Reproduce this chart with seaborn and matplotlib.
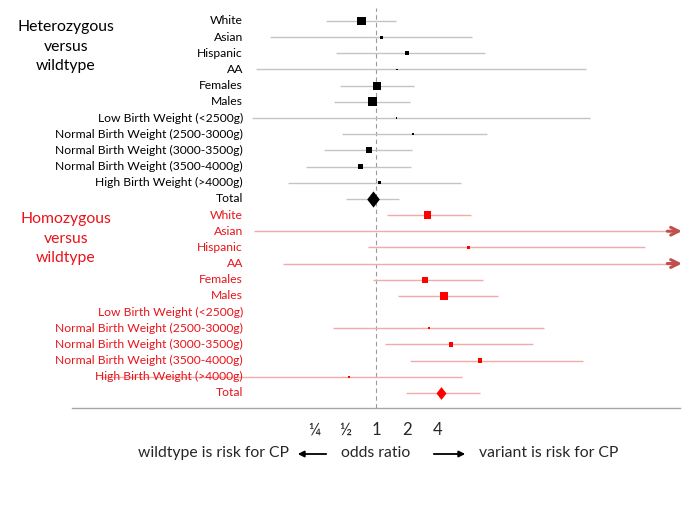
import numpy as np
import pandas as pd
import matplotlib
matplotlib.use("Agg")
import matplotlib.pyplot as plt
import matplotlib.transforms as mtransforms
from matplotlib.ticker import FixedLocator, FixedFormatter
import seaborn as sns

# Data (odds ratios)
subgroups = ["White", "Asian", "Hispanic", "AA", "Females", "Males",
             "Low Birth Weight (<2500g)", "Normal Birth Weight (2500-3000g)",
             "Normal Birth Weight (3000-3500g)", "Normal Birth Weight (3500-4000g)",
             "High Birth Weight (>4000g)", "Total"]

het_or = [0.72, 1.14, 2.01, 1.59, 1.03, 0.93, 1.59, 2.30, 0.85, 0.71, 1.09, 0.93]
het_lo = [0.33, 0.093, 0.41, 0.069, 0.45, 0.39, 0.062, 0.47, 0.31, 0.21, 0.14, 0.51]
het_hi = [1.56, 8.5, 11.5, 109, 2.36, 2.16, 118, 12.0, 2.25, 2.19, 6.7, 1.69]
het_wt = [72, 8, 14, 3, 56, 72, 1, 5, 36, 25, 7, np.nan]

hom_or = [3.16, np.nan, 7.9, np.nan, 2.99, 4.6, np.nan, 3.27, 5.35, 10.2, 0.55, 4.26]
hom_lo = [1.27, 0.065, 0.84, 0.126, 0.94, 1.65, np.nan, 0.38, 1.23, 2.14, 0.0021, 1.96]
hom_hi = [8.3, np.inf, 405, np.inf, 10.9, 15.3, np.nan, 42.5, 33.1, 102, 6.8, 10.2]
hom_wt = [49, np.nan, 7, np.nan, 36, 56, np.nan, 3, 20, 20, 3, np.nan]

groups = ["Heterozygous\nversus\nwildtype", "Homozygous\nversus\nwildtype"]

sns.set_style("white")
plt.rcParams['font.family'] = ['Lato', 'DejaVu Sans']

frames = []
for k, (g, o, lo, hi, wt) in enumerate([(groups[0], het_or, het_lo, het_hi, het_wt),
                                         (groups[1], hom_or, hom_lo, hom_hi, hom_wt)]):
    frames.append(pd.DataFrame({"group": g, "label": subgroups, "row": np.arange(12) + 12 * k,
                                "or": o, "lo": lo, "hi": hi, "weight": wt,
                                "total": [s == "Total" for s in subgroups]}))
df = pd.concat(frames, ignore_index=True)

marker_col = {groups[0]: "black", groups[1]: "#ff0000"}
text_col = {groups[0]: "black", groups[1]: "#e8141a"}
line_col = {groups[0]: "#c4c4c4", groups[1]: "#f5aaaa"}
diamond_s = {groups[0]: 135, groups[1]: 85}

fig = plt.figure(figsize=(6.85, 5.13), dpi=100)
ax = fig.add_axes([72 / 685, 1 - 408 / 513, (680 - 72) / 685, 400 / 513])
ax.set_xscale("log", base=2)
xmin, xmax = 2 ** -9.8, 2 ** 9.8
ax.set_xlim(xmin, xmax)
ax.set_ylim(23.93, -0.8)

ax.axvline(1, color="#999999", ls=(0, (4, 3)), lw=0.8, zorder=1)

# confidence intervals
for _, r in df.dropna(subset=["lo"]).iterrows():
    hi = min(r["hi"], 2 ** 9.75)
    ax.hlines(r["row"], r["lo"], hi, color=line_col[r["group"]], lw=1, zorder=2)
    if np.isinf(r["hi"]):
        ax.annotate("", xy=(2 ** 9.95, r["row"]), xytext=(2 ** 9.3, r["row"]),
                    arrowprops=dict(arrowstyle="->", color="#c0504d", lw=2.2,
                                    mutation_scale=14), annotation_clip=False)

# study squares
sub = df[~df["total"]]
sns.scatterplot(data=sub, x="or", y="row", hue="group", palette=marker_col,
                size="weight", sizes=(0.8, 40), size_norm=(1, 72), marker="s",
                linewidth=0, legend=False, ax=ax, zorder=3)
# pooled diamonds
diamond = [(0, 1), (0.78, 0), (0, -1), (-0.78, 0), (0, 1)]
for g in groups:
    t = df[df["total"] & (df["group"] == g)]
    sns.scatterplot(data=t, x="or", y="row", color=marker_col[g], marker=diamond,
                    s=diamond_s[g], linewidth=0, legend=False, ax=ax, zorder=3)

# row labels
trans = mtransforms.blended_transform_factory(fig.transFigure, ax.transData)
for _, r in df.iterrows():
    ax.text(243 / 685, r["row"], r["label"], transform=trans, ha="right", va="center",
            fontsize=8.7, color=text_col[r["group"]])

fig.text(66 / 685, 1 - 47 / 513, groups[0], ha="center", va="center", fontsize=11.3,
         linespacing=1.5, color="black")
fig.text(66 / 685, 1 - 239 / 513, groups[1], ha="center", va="center", fontsize=11.3,
         linespacing=1.5, color="#e8141a")

# axis
for s in ["top", "left", "right"]:
    ax.spines[s].set_visible(False)
ax.spines["bottom"].set_color("#a6a6a6")
ax.spines["bottom"].set_linewidth(1)
ax.yaxis.set_visible(False)
ticks = [2.0 ** k for k in range(-9, 10)]
labels = {-2: "¼", -1: "½", 0: "1", 1: "2", 2: "4"}
ax.xaxis.set_major_locator(FixedLocator(ticks))
ax.xaxis.set_major_formatter(FixedFormatter([labels.get(k, "") for k in range(-9, 10)]))
ax.xaxis.set_minor_locator(FixedLocator([]))
ax.tick_params(axis="x", which="major", direction="out", length=5, width=0.8,
               color="#a6a6a6", labelsize=12, pad=5)
ax.set_xlabel("")

# direction annotation
fig.text(214 / 685, 1 - 453 / 513, "wildtype is risk for CP", ha="center", va="center", fontsize=11.3)
fig.text(376 / 685, 1 - 453 / 513, "odds ratio", ha="center", va="center", fontsize=11.3)
fig.text(549 / 685, 1 - 453 / 513, "variant is risk for CP", ha="center", va="center", fontsize=11.3)
fig.add_artist(matplotlib.patches.FancyArrowPatch((329 / 685, 1 - 454 / 513), (295 / 685, 1 - 454 / 513),
               transform=fig.transFigure, arrowstyle="-|>", mutation_scale=9, lw=1.3, color="black"))
fig.add_artist(matplotlib.patches.FancyArrowPatch((431 / 685, 1 - 454 / 513), (468 / 685, 1 - 454 / 513),
               transform=fig.transFigure, arrowstyle="-|>", mutation_scale=9, lw=1.3, color="black"))

fig.savefig("out.png", dpi=100)
